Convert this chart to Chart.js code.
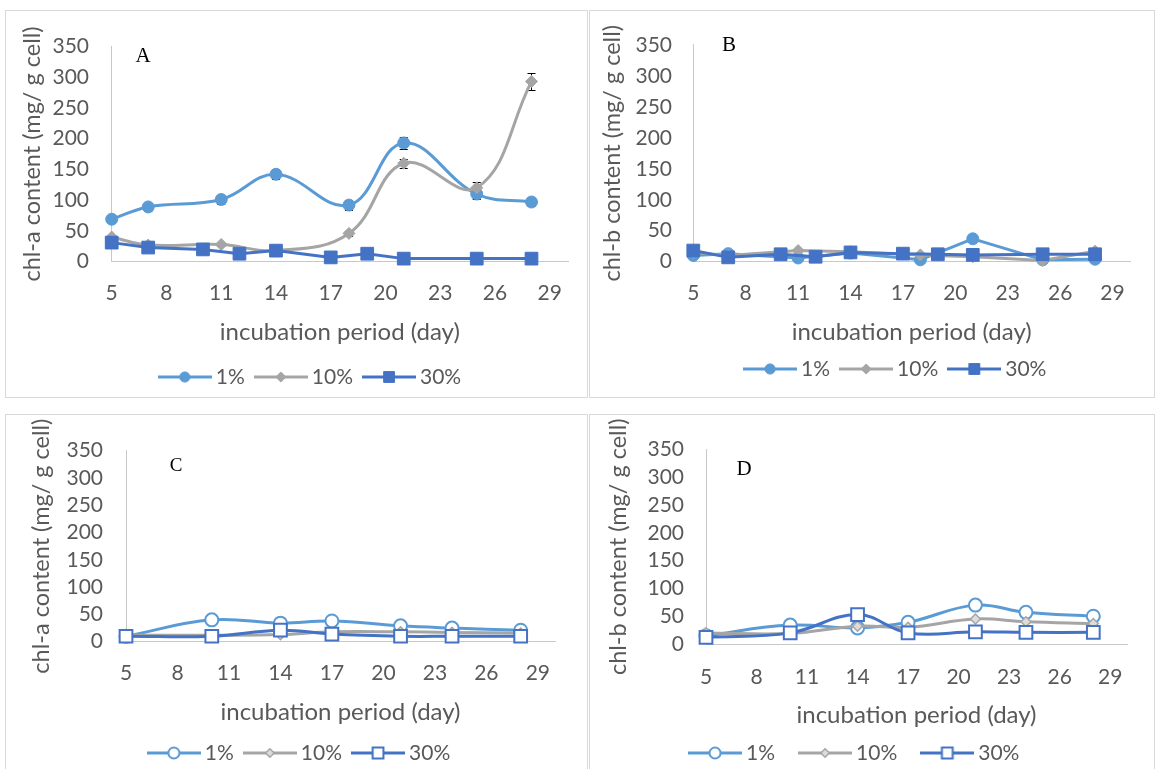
<!DOCTYPE html>
<html><head><meta charset="utf-8">
<script src="https://cdn.jsdelivr.net/npm/chart.js@4.4.0/dist/chart.umd.min.js"></script>
<style>
html,body{margin:0;padding:0;background:#fff;width:1155px;height:769px;overflow:hidden;}
.panel{position:absolute;border:1px solid #d9d9d9;box-sizing:border-box;background:#fff;overflow:hidden;}
.panel canvas{position:absolute;left:0;top:0;}
.tag{position:absolute;font-family:"Liberation Serif",serif;color:#000;transform:translate(-50%,-50%);white-space:nowrap;}
</style></head><body>
<script>
// ---------- data ----------
const dayTicks = [5, 8, 11, 14, 17, 20, 23, 26, 29];
const valueTicks = [0, 50, 100, 150, 200, 250, 300, 350];
const seriesNames = ['1%', '10%', '30%'];
const xTitle = 'incubation period (day)';

// Panel A: chl-a
const aDays1 = [5, 7, 11, 14, 18, 21, 25, 28];
const aVals1 = [69, 89, 101, 142, 92, 193, 110, 97];
const aErr1 = [5, 7, 7, 8, 8, 10, 8, 6];
const aDays10 = [5, 7, 11, 14, 18, 21, 25, 28];
const aVals10 = [40, 27, 28, 18, 46, 160, 120, 293];
const aErr10 = [3, 3, 3, 3, 4, 7, 9, 14];
const aDays30 = [5, 7, 10, 12, 14, 17, 19, 21, 25, 28];
const aVals30 = [31, 23, 20, 13, 18, 7, 13, 5, 5, 5];

// Panel B: chl-b
const bDays1 = [5, 7, 11, 14, 18, 21, 25, 28];
const bVals1 = [10, 13, 6, 14, 3, 37, 3, 4];
const bDays10 = [5, 7, 11, 14, 18, 21, 25, 28];
const bVals10 = [15, 10, 18, 16, 11, 8, 2, 17];
const bDays30 = [5, 7, 10, 12, 14, 17, 19, 21, 25, 28];
const bVals30 = [18, 7, 12, 8, 15, 13, 12, 11, 12, 12];

// Panel C: chl-a
const cDays = [5, 10, 14, 17, 21, 24, 28];
const cVals1 = [10, 40, 34, 38, 29, 25, 21];
const cVals10 = [12, 12, 13, 18, 18, 17, 16];
const cVals30 = [10, 10, 21, 14, 10, 10, 10];

// Panel D: chl-b
const dDays = [5, 10, 14, 17, 21, 24, 28];
const dVals1 = [15, 34, 29, 39, 70, 57, 50];
const dVals10 = [20, 19, 32, 30, 45, 40, 37];
const dVals30 = [12, 20, 53, 20, 22, 21, 21];

// ---------- styles ----------
const COL1 = '#5B9BD5', COL10 = '#A5A5A5', COL30 = '#4472C4';
const AXIS = '#c8c8c8', TXT = '#595959', FAM = 'Lato';
const TICK_FS = 21, XTITLE_FS = 24, YTITLE_FS = 23.5, LEG_FS = 21;
const LEG_IMG_W = 54, LEG_BOX_W = 41;

const markerStyles = {
  filled: [
    {pointStyle: 'circle', radius: 6, bg: COL1, border: COL1, bw: 1},
    {pointStyle: 'rectRot', radius: 6, bg: COL10, border: COL10, bw: 1},
    {pointStyle: 'rect', radius: 9, bg: COL30, border: COL30, bw: 1}
  ],
  open: [
    {pointStyle: 'circle', radius: 6.5, bg: '#ffffff', border: COL1, bw: 2},
    {pointStyle: 'rectRot', radius: 5, bg: '#dcdcdc', border: COL10, bw: 1.5},
    {pointStyle: 'rect', radius: 9, bg: '#ffffff', border: COL30, bw: 2}
  ]
};
const lineColors = [COL1, COL10, COL30];

function legendImage(color, m) {
  const c = document.createElement('canvas');
  c.width = LEG_IMG_W; c.height = 22;
  const g = c.getContext('2d');
  g.strokeStyle = color; g.lineWidth = 3;
  g.beginPath(); g.moveTo(0, 11); g.lineTo(LEG_IMG_W, 11); g.stroke();
  g.fillStyle = m.bg; g.strokeStyle = m.border; g.lineWidth = m.bw;
  Chart.helpers.drawPoint(g, {pointStyle: m.pointStyle, radius: m.radius * 0.85, borderWidth: m.bw, rotation: 0}, LEG_IMG_W / 2, 11);
  return c;
}

const errorBars = {
  id: 'errorBars',
  beforeDatasetsDraw(chart) {
    const ctx = chart.ctx, ys = chart.scales.y;
    chart.data.datasets.forEach((ds, i) => {
      if (!ds.errors) return;
      const meta = chart.getDatasetMeta(i);
      ctx.save(); ctx.strokeStyle = '#000'; ctx.lineWidth = 1;
      meta.data.forEach((pt, j) => {
        const e = ds.errors[j]; if (!e) return;
        const v = ds.data[j].y;
        const y1 = Math.round(ys.getPixelForValue(v + e)) + 0.5;
        const y2 = Math.round(ys.getPixelForValue(v - e)) + 0.5;
        ctx.beginPath();
        ctx.moveTo(pt.x, y1); ctx.lineTo(pt.x, y2);
        ctx.moveTo(pt.x - 4, y1); ctx.lineTo(pt.x + 4, y1);
        ctx.moveTo(pt.x - 4, y2); ctx.lineTo(pt.x + 4, y2);
        ctx.stroke();
      });
      ctx.restore();
    });
  }
};

// ---------- layout (page coordinates) ----------
const panels = [
  {tag: 'A', tagPos: [143, 55, 21], box: [5, 10, 583, 388], axisX: 111.7, yTop: 33, yZero: 261.7, xEnd: 568,
   yLabR: 89, yTitleX: 32, xLabY: 293, xTitleY: 332, legY: 377, legCX: 312.75, legPad: 15.5,
   yTitle: 'chl-a content (mg/ g cell)', kind: 'filled', tension: [0.4, 0.4, 0],
   series: [[aDays1, aVals1, aErr1], [aDays10, aVals10, aErr10], [aDays30, aVals30, null]]},
  {tag: 'B', tagPos: [729, 44, 21], box: [589, 10, 566, 388], axisX: 693.3, yTop: 34, yZero: 261.7, xEnd: 1130,
   yLabR: 672, yTitleX: 612, xLabY: 293, xTitleY: 332, legY: 369, legCX: 898, legPad: 15.5,
   yTitle: 'chl-b content (mg/ g cell)', kind: 'filled', tension: [0, 0, 0],
   series: [[bDays1, bVals1, null], [bDays10, bVals10, null], [bDays30, bVals30, null]]},
  {tag: 'C', tagPos: [176, 465, 19], box: [5, 414, 583, 362], axisX: 126, yTop: 447, yZero: 641.7, xEnd: 555,
   yLabR: 103, yTitleX: 41, xLabY: 673, xTitleY: 712, legY: 753, legCX: 301.8, legPad: 15.5,
   yTitle: 'chl-a content (mg/ g cell)', kind: 'open', tension: [0.4, 0.4, 0.4],
   series: [[cDays, cVals1, null], [cDays, cVals10, null], [cDays, cVals30, null]]},
  {tag: 'D', tagPos: [744, 468, 21], box: [589, 414, 566, 362], axisX: 706, yTop: 441, yZero: 644, xEnd: 1127,
   yLabR: 684, yTitleX: 618, xLabY: 677, xTitleY: 715, legY: 753, legCX: 857, legPad: 29.5,
   yTitle: 'chl-b content (mg/ g cell)', kind: 'open', tension: [0.4, 0.4, 0.4],
   series: [[dDays, dVals1, null], [dDays, dVals10, null], [dDays, dVals30, null]]}
];

function buildPanel(p) {
  const div = document.createElement('div');
  div.className = 'panel';
  div.style.left = p.box[0] + 'px'; div.style.top = p.box[1] + 'px';
  div.style.width = p.box[2] + 'px'; div.style.height = p.box[3] + 'px';
  const W = p.box[2] - 2, H = p.box[3] - 2;
  const cv = document.createElement('canvas');
  cv.width = W; cv.height = H; cv.style.width = W + 'px'; cv.style.height = H + 'px';
  div.appendChild(cv); document.body.appendChild(div);

  const ox = p.box[0] + 1, oy = p.box[1] + 1;
  const L = p.axisX - ox, T = p.yTop - oy, R = p.xEnd - ox, B = p.yZero - oy;
  const legH = LEG_FS + p.legPad + 10;
  const xH = H - legH - B;
  const xTickPad = (p.xLabY - oy) - B - 0.6 * TICK_FS;
  const xTitlePadB = B + xH - (p.xTitleY - oy) - 0.6 * XTITLE_FS;
  const yTickPad = L - (p.yLabR - ox);
  const yTitlePadT = (p.yTitleX - ox) - 0.6 * YTITLE_FS;

  const styles = markerStyles[p.kind];
  const datasets = p.series.map((s, i) => ({
    label: seriesNames[i],
    data: s[0].map((d, j) => ({x: d, y: s[1][j]})),
    errors: s[2],
    borderColor: lineColors[i], borderWidth: 3,
    pointStyle: styles[i].pointStyle, pointRadius: styles[i].radius, pointHoverRadius: styles[i].radius,
    pointBackgroundColor: styles[i].bg, pointBorderColor: styles[i].border, pointBorderWidth: styles[i].bw,
    tension: p.tension[i], fill: false, clip: false, order: 2 - i
  }));
  const legImgs = styles.map((m, i) => legendImage(lineColors[i], m));

  const placer = {
    id: 'legendPlacer',
    afterLayout(chart) {
      const lg = chart.legend; if (!lg) return;
      const w = lg.right - lg.left, h = lg.bottom - lg.top;
      lg.left = (p.legCX - ox) - w / 2; lg.right = lg.left + w;
      lg.top = (p.legY - oy) - p.legPad - LEG_FS / 2; lg.bottom = lg.top + h;
    }
  };

  new Chart(cv, {
    type: 'line',
    data: {datasets},
    plugins: [errorBars, placer],
    options: {
      responsive: false, animation: false, devicePixelRatio: 1,
      layout: {padding: {left: 0, top: T, right: W - R, bottom: 0}},
      plugins: {
        tooltip: {enabled: false},
        legend: {
          position: 'bottom',
          labels: {
            usePointStyle: true, pointStyleWidth: LEG_BOX_W, padding: p.legPad,
            color: TXT, font: {family: FAM, size: LEG_FS},
            generateLabels: (chart) => chart.data.datasets.map((ds, i) => ({
              text: ds.label, pointStyle: legImgs[i], fillStyle: '#000', strokeStyle: '#000',
              lineWidth: 0, hidden: false, datasetIndex: i, fontColor: TXT
            }))
          }
        }
      },
      scales: {
        x: {
          type: 'linear', min: 5, max: 30,
          afterBuildTicks: (s) => { s.ticks = dayTicks.map(v => ({value: v})); },
          afterFit: (s) => { s.height = xH; },
          grid: {display: false, drawTicks: false},
          border: {display: true, color: AXIS, width: 1},
          ticks: {padding: xTickPad, color: TXT, font: {family: FAM, size: TICK_FS}, maxRotation: 0, autoSkip: false},
          title: {display: true, text: xTitle, color: TXT, font: {family: FAM, size: XTITLE_FS}, padding: {top: 0, bottom: xTitlePadB}}
        },
        y: {
          type: 'linear', min: 0, max: 350,
          afterBuildTicks: (s) => { s.ticks = valueTicks.map(v => ({value: v})); },
          afterFit: (s) => { s.width = L; },
          grid: {display: false, drawTicks: false},
          border: {display: true, color: AXIS, width: 1},
          ticks: {padding: yTickPad, color: TXT, font: {family: FAM, size: TICK_FS}, autoSkip: false},
          title: {display: true, text: p.yTitle, color: TXT, font: {family: FAM, size: YTITLE_FS}, padding: {top: yTitlePadT, bottom: 0}}
        }
      }
    }
  });

  const t = document.createElement('div');
  t.className = 'tag'; t.textContent = p.tag;
  t.style.left = p.tagPos[0] + 'px'; t.style.top = p.tagPos[1] + 'px'; t.style.fontSize = p.tagPos[2] + 'px';
  document.body.appendChild(t);
}

panels.forEach(buildPanel);
</script>
</body></html>
